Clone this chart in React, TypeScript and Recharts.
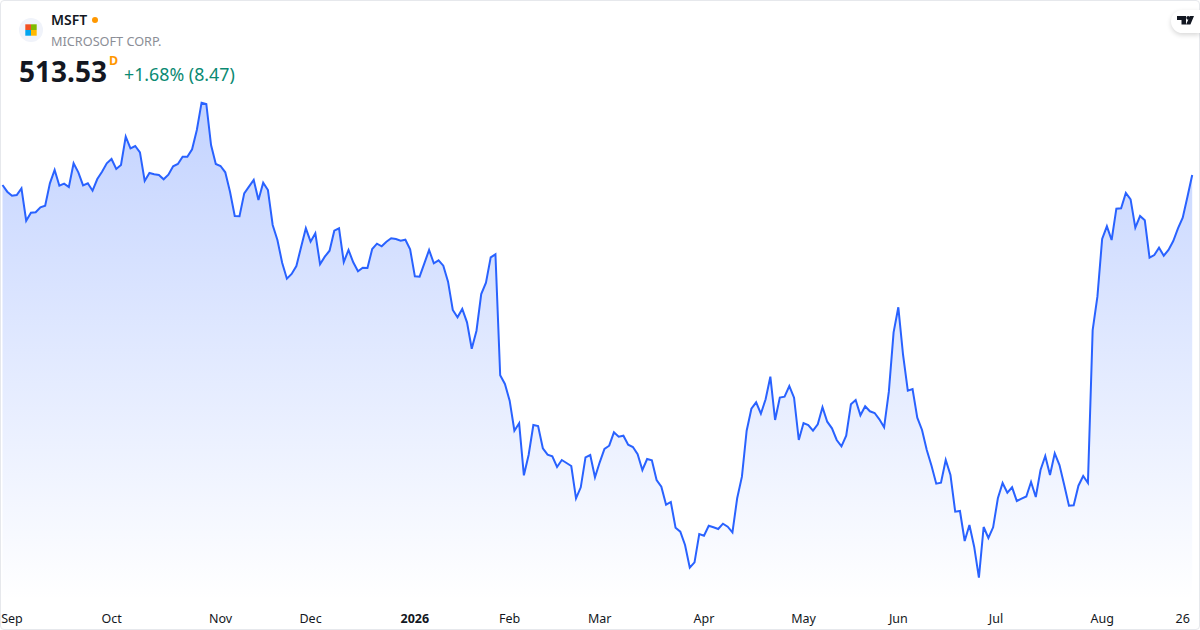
import { Area, AreaChart, XAxis, YAxis } from 'recharts';

// MSFT daily closes, Aug 2025 to Aug 2026
const closes = [
  508.5, 505.15, 503.15, 503.5, 506.85, 490.65, 494.65, 494.85, 497.35, 498.15,
  509.35, 516, 508.15, 509.15, 507.5, 519.35, 514.85, 508.35, 509.35, 505.65,
  511.5, 515.15, 519.35, 521.5, 516.5, 518.5, 532.65, 526.85, 528, 524.85,
  510.5, 514.5, 513.85, 513.5, 511.35, 513.65, 517.85, 519, 522.65, 522.65,
  526.35, 536, 549.65, 549, 528.5, 519, 518, 514.85, 505.15, 493,
  492.85, 504.35, 507.65, 511, 501, 509.65, 506, 488.5, 481, 469.65,
  461.65, 464, 468, 477.5, 486.85, 480.15, 484.35, 468.85, 472.65, 475.65,
  485.65, 486.85, 470, 476, 469.85, 465.35, 467.15, 467, 476.5, 479.15,
  477.85, 480.15, 481.85, 481.5, 480.65, 481.15, 476.35, 462.85, 462.65, 469.35,
  476, 469.35, 470.85, 468.15, 460.15, 446, 442.35, 446.5, 439.85, 426.65,
  435.65, 454, 459.65, 472.35, 473.85, 413.35, 409, 400.65, 385.65, 389.35,
  363.35, 373.5, 388.5, 388, 376.85, 373.65, 372.85, 367.5, 371, 369.5,
  368, 351.85, 357.35, 372.35, 373.5, 362.35, 369.85, 376.5, 378.15, 384.85,
  382.65, 383.15, 378.65, 377.5, 373.85, 366, 371.5, 370.85, 361, 357.65,
  348.65, 350, 337.15, 335.15, 328.5, 317.15, 319.85, 334, 333.15, 338.15,
  337.35, 336.5, 339.15, 337.65, 334.85, 351.85, 362.65, 385.65, 396.65, 399.85,
  394.15, 401.35, 412.65, 391, 402.25, 402.65, 408, 402.15, 381, 389.5,
  388.5, 385.65, 388.85, 397.35, 390.15, 386.85, 381, 377.85, 383.15, 398.85,
  401, 393.35, 397.85, 395.35, 394.5, 391.35, 387.35, 405.15, 434.85, 447.35,
  423.5, 405.65, 406.5, 392.15, 386, 376, 368.15, 359.15, 359.65, 371,
  363.5, 345.15, 345.5, 330.5, 338.5, 327.65, 312.15, 337.5, 332, 337.35,
  351.85, 359.5, 354.65, 357.35, 350.5, 351.65, 352.75, 360, 352.5, 366,
  373, 363.5, 374.35, 368.5, 358.5, 348.15, 348.35, 358.15, 363, 359.5,
  436, 452.65, 481.5, 487.85, 481, 496.65, 496.85, 504.5, 501.35, 487.15,
  493, 490.85, 472.15, 473.5, 477.15, 473.15, 476, 480.5, 486.85, 492.15,
  502.65, 513.53,
];
const tickDays = [2, 23, 46, 65, 87, 107, 126, 148, 169, 189, 209.6, 232, 249];
const tickLabels = ['Sep', 'Oct', 'Nov', 'Dec', '2026', 'Feb', 'Mar', 'Apr', 'May', 'Jun', 'Jul', 'Aug', '26'];

const rows = closes.map((close, day) => ({ day, close }));
const FONT = '"Noto Sans", sans-serif';
const BLUE = '#2962ff';

function MonthTick({ x, y, payload }: any) {
  const label = tickLabels[tickDays.indexOf(payload.value)];
  return (
    <text x={x} y={y + 15} textAnchor="middle" fontFamily={FONT} fontSize={12.5}
      fontWeight={label === '2026' ? 700 : 400} fill="#131722">
      {label}
    </text>
  );
}

export default function App() {
  return (
    <div style={{ position: 'absolute', left: 0, top: 0, width: 1200, height: 630, background: '#fff', fontFamily: FONT }}>
      <AreaChart width={1200} height={630} data={rows} margin={{ top: 0, right: 7.8, bottom: 0, left: 2.5 }}>
        <defs>
          <linearGradient id="fillClose" x1="0" y1="0" x2="0" y2="1">
            <stop offset="0%" stopColor={BLUE} stopOpacity={0.28} />
            <stop offset="100%" stopColor={BLUE} stopOpacity={0} />
          </linearGradient>
        </defs>
        <XAxis dataKey="day" type="number" domain={[0, 251]} ticks={tickDays} interval={0} height={30}
          axisLine={false} tickLine={false} tick={<MonthTick />} />
        <YAxis hide domain={[301, 601]} />
        <Area dataKey="close" type="linear" stroke={BLUE} strokeWidth={2} fill="url(#fillClose)"
          fillOpacity={1} dot={false} activeDot={false} isAnimationActive={false} />
      </AreaChart>

      {/* card frame */}
      <div style={{ position: 'absolute', inset: 0, boxSizing: 'border-box', border: '1px solid #e6e8ec', borderRadius: 4, pointerEvents: 'none' }} />

      {/* symbol header */}
      <div style={{ position: 'absolute', left: 19, top: 18, width: 24, height: 24, borderRadius: 12, background: '#f0f3fa' }}>
        <svg width="24" height="24" style={{ display: 'block' }}>
          <rect x="6.3" y="6.3" width="5.7" height="5.7" fill="#f25022" />
          <rect x="12" y="6.3" width="5.7" height="5.7" fill="#7fba00" />
          <rect x="6.3" y="12" width="5.7" height="5.7" fill="#00a4ef" />
          <rect x="12" y="12" width="5.7" height="5.7" fill="#ffb900" />
        </svg>
      </div>
      <div style={{ position: 'absolute', left: 51, top: 11, fontSize: 14, lineHeight: '18px', fontWeight: 600, color: '#131722' }}>MSFT</div>
      <div style={{ position: 'absolute', left: 92, top: 17, width: 6, height: 6, borderRadius: 3, background: '#ff9800' }} />
      <div style={{ position: 'absolute', left: 51, top: 32, fontSize: 12.7, lineHeight: '18px', color: '#8b8e96', whiteSpace: 'nowrap' }}>MICROSOFT CORP.</div>
      <div style={{ position: 'absolute', left: 19, top: 52, fontSize: 28, lineHeight: '38px', fontWeight: 700, color: '#131722' }}>513.53</div>
      <div style={{ position: 'absolute', left: 109, top: 53, fontSize: 12.5, lineHeight: '16px', fontWeight: 700, color: '#ff9800' }}>D</div>
      <div style={{ position: 'absolute', left: 124, top: 62, fontSize: 17.8, lineHeight: '24px', color: '#0b8a72', whiteSpace: 'nowrap' }}>+1.68% (8.47)</div>

      {/* TradingView mark */}
      <div style={{ position: 'absolute', left: 1171, top: 10, width: 29, height: 23, borderRadius: '12px 0 0 12px', background: '#fff', boxShadow: '0 2px 5px rgba(0,0,0,0.16)' }}>
        <svg width="29" height="23" style={{ display: 'block' }}>
          <path d="M6 6h9v8.5h-4.5v-4.5H6z M19 6h4l-3.6 8.5h-4.4z" fill="#131722" />
          <circle cx="17.2" cy="7.8" r="1.9" fill="#131722" />
        </svg>
      </div>
    </div>
  );
}
